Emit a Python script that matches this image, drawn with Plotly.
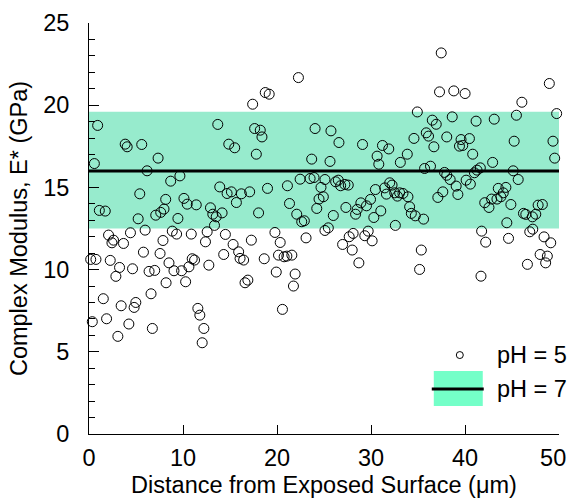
import plotly.graph_objects as go

# pH = 5 measurements: distance from exposed surface (um) and complex modulus (GPa)
x_ph5 = [
    0.92, 3.85, 4.06, 5.61, 7.35, 0.57, 6.18, 5.40, 1.10, 1.73, 5.23, 7.10, 7.63, 7.98, 2.08, 4.41,
    5.97, 2.61, 2.44, 3.67, 7.87, 5.79, 7.56, 0.18, 0.74, 2.26, 3.25, 4.63, 6.39, 6.99, 8.51, 2.86,
    8.20, 6.60, 1.52, 4.98, 3.42, 4.80, 0.35, 1.87, 4.24, 6.74, 3.07,
    13.70, 14.87, 15.50, 8.69, 9.67, 13.91, 14.69, 15.15, 16.21, 15.68, 10.10, 10.45, 11.41, 8.16,
    9.46, 12.92, 13.17, 13.53, 14.16, 13.35, 8.86, 9.32, 10.88, 12.57, 12.39, 14.51, 15.33, 15.92,
    16.07, 16.45, 14.33, 10.98, 11.23, 10.63, 9.85, 9.04, 12.75, 10.28, 16.60, 11.58, 11.79, 12.22,
    12.04,
    22.28, 18.75, 19.17, 17.41, 17.62, 18.22, 18.40, 24.05, 17.80, 23.69, 22.46, 23.52, 23.94, 25.10,
    24.68, 24.47, 24.93, 24.23, 17.09, 18.99, 21.11, 21.33, 18.04, 22.10, 22.63, 22.91, 19.78, 20.34,
    23.09, 25.10, 17.27, 20.16, 20.76, 21.05, 21.58, 18.64, 16.90, 19.92, 21.93, 21.75, 20.58,
    25.74, 26.59, 29.10, 31.22, 31.89, 30.65, 30.83, 33.12, 25.64, 26.24, 26.52, 26.77, 27.22,
    27.58, 30.47, 31.46, 31.99, 32.24, 31.64, 32.52, 32.81, 33.05, 33.40, 29.95, 28.92, 29.52, 27.33,
    28.53, 28.36, 31.04, 30.30, 25.99, 32.59, 25.46, 29.70, 28.10, 27.68, 29.34, 30.12, 26.98, 28.00,
    28.71,
    37.47, 37.29, 38.81, 40.01, 34.93, 36.52, 36.94, 38.64, 41.18, 34.57, 35.88, 36.12, 38.06, 36.69,
    39.58, 40.47, 39.41, 39.76, 40.82, 33.86, 35.70, 36.33, 37.82, 38.06, 38.42, 39.06, 39.24, 37.64,
    37.11, 40.12, 40.57, 41.00, 41.28, 41.63, 33.93, 34.11, 34.29, 34.71, 35.59, 42.10, 35.35, 35.17,
    41.77, 42.20, 41.70,
    48.97, 46.05, 43.11, 45.47, 49.75, 45.23, 49.36, 49.54, 42.94, 45.13, 45.66, 43.54, 44.35, 44.07,
    43.82, 43.40, 42.83, 42.55, 44.88, 46.22, 46.47, 47.17, 47.53, 47.78, 48.23, 44.45, 47.21, 46.89,
    44.63, 48.41, 49.12, 47.99, 48.76, 48.58, 46.64,
]
e_ph5 = [
    18.77, 17.63, 17.47, 17.61, 16.78, 16.45, 16.01, 14.61, 13.60, 13.56, 13.09, 13.31, 13.48, 13.68, 12.10, 12.24,
    12.40, 11.79, 11.63, 11.59, 11.77, 11.06, 10.98, 10.62, 10.62, 10.56, 10.13, 10.05, 9.89, 9.95, 10.41, 9.59,
    9.20, 8.53, 8.23, 8.00, 7.80, 7.70, 6.83, 7.01, 6.69, 6.42, 5.94,
    18.83, 17.63, 17.41, 15.38, 15.70, 15.03, 14.63, 14.73, 14.61, 14.08, 14.33, 13.98, 13.94, 14.27,
    13.11, 13.76, 13.37, 13.21, 13.45, 12.69, 12.34, 12.16, 12.16, 12.30, 11.69, 12.14, 11.53, 11.08,
    10.68, 10.58, 10.92, 10.66, 10.58, 10.17, 9.93, 9.93, 10.27, 9.26, 9.20, 7.64, 7.23, 6.42,
    5.55,
    21.68, 20.77, 20.67, 20.06, 18.58, 18.48, 18.07, 18.58, 17.02, 16.72, 15.50, 15.54, 15.60, 15.48,
    15.00, 14.29, 14.43, 13.72, 14.73, 14.94, 15.10, 14.02, 13.45, 13.37, 12.91, 12.97, 12.26, 11.65,
    11.93, 12.38, 11.79, 10.88, 10.78, 10.82, 10.88, 10.66, 9.36, 9.85, 9.73, 9.00, 7.58,
    18.44, 17.73, 17.61, 17.55, 17.34, 16.90, 16.41, 16.52, 16.58, 15.34, 15.44, 15.10, 15.18,
    15.14, 14.87, 14.97, 15.28, 15.14, 14.59, 14.67, 14.47, 14.67, 14.63, 14.27, 14.06, 13.88, 13.78,
    13.66, 13.37, 13.57, 13.17, 13.29, 12.69, 12.54, 12.34, 12.20, 12.00, 12.06, 11.75, 11.53, 11.19,
    10.41,
    23.18, 20.81, 20.87, 20.71, 19.59, 19.09, 18.84, 19.29, 19.03, 17.98, 18.32, 18.12, 18.07, 17.47,
    17.91, 17.97, 17.51, 17.55, 17.02, 17.02, 16.15, 16.29, 15.91, 15.74, 15.48, 15.08, 14.57, 14.73,
    14.39, 15.44, 15.20, 15.89, 16.05, 16.19, 14.43, 13.82, 13.42, 13.27, 13.07, 14.07, 11.19, 10.01,
    12.34, 11.67, 9.60,
    21.32, 20.18, 19.15, 19.39, 19.49, 17.81, 17.81, 16.78, 16.52, 16.01, 15.48, 14.94, 15.00, 14.67,
    14.43, 14.29, 14.29, 13.78, 13.96, 13.42, 13.36, 13.21, 13.37, 13.92, 13.96, 12.85, 12.46, 12.30,
    11.90, 11.99, 11.63, 10.92, 10.82, 10.41, 10.32,
]

# pH = 7 reference: mean and range band
x_ph7 = [0, 50]
ph7_mean = [16.0, 16.0]
ph7_low = [12.5, 12.5]
ph7_high = [19.6, 19.6]

x_ticks = [0, 10, 20, 30, 40, 50]
x_tick_labels = ["0", "10", "20", "30", "40", "50\u2002"]
y_ticks = [0, 5, 10, 15, 20, 25]

FONT = "Liberation Sans, Arial, sans-serif"
FS = 23.5
BAND_COLOR = "#97EBCD"
LEGEND_BAND = "#74FFC8"

fig = go.Figure()

fig.add_trace(go.Scatter(
    x=x_ph7 + x_ph7[::-1], y=ph7_low + ph7_high[::-1],
    fill="toself", fillcolor=BAND_COLOR, line=dict(width=0),
    mode="lines", hoverinfo="skip", showlegend=False,
))
fig.add_trace(go.Scatter(
    x=x_ph7, y=ph7_mean, mode="lines",
    line=dict(color="black", width=3), showlegend=False,
))
fig.add_trace(go.Scatter(
    x=x_ph5, y=e_ph5, mode="markers",
    marker=dict(symbol="circle-open", size=10, color="black", line=dict(width=1, color="black")),
    showlegend=False, cliponaxis=False,
))

# Manual legend (paper coordinates)
fig.add_shape(type="circle", xref="paper", yref="paper",
              x0=0.7815, x1=0.7964, y0=0.1836, y1=0.2006,
              line=dict(color="black", width=1))
fig.add_shape(type="rect", xref="paper", yref="paper",
              x0=0.7336, x1=0.8378, y0=0.0681, y1=0.1532,
              fillcolor=LEGEND_BAND, line=dict(width=0))
fig.add_shape(type="line", xref="paper", yref="paper",
              x0=0.7293, x1=0.8399, y0=0.1094, y1=0.1094,
              line=dict(color="black", width=3))
fig.add_annotation(text="pH = 5", xref="paper", yref="paper", x=0.8633, y=0.1921,
                   xanchor="left", yanchor="middle", showarrow=False,
                   font=dict(size=FS, color="black", family=FONT))
fig.add_annotation(text="pH = 7", xref="paper", yref="paper", x=0.8633, y=0.1094,
                   xanchor="left", yanchor="middle", showarrow=False,
                   font=dict(size=FS, color="black", family=FONT))

fig.update_layout(
    width=570, height=502,
    margin=dict(l=89, r=11, t=23, b=68),
    paper_bgcolor="white", plot_bgcolor="white",
    font=dict(family=FONT, size=FS, color="black"),
    showlegend=False,
)
fig.update_xaxes(
    range=[0, 50], tickvals=x_ticks, ticktext=x_tick_labels,
    ticks="inside", ticklen=9, tickwidth=1, tickcolor="black",
    showline=True, linecolor="black", linewidth=1, showgrid=False, zeroline=False, automargin=False,
    tickfont=dict(size=FS, family=FONT), ticklabelstandoff=3, ticklabeloverflow="allow",
    title=dict(text="Distance from Exposed Surface (μm)", font=dict(size=FS, family=FONT), standoff=6),
)
fig.update_yaxes(
    range=[0, 25], tickvals=y_ticks, ticks="inside", ticklen=10, tickwidth=1, tickcolor="black",
    showline=True, linecolor="black", linewidth=1, showgrid=False, zeroline=False, automargin=False,
    minor=dict(dtick=1, ticks="inside", ticklen=6, tickwidth=1, tickcolor="black", showgrid=False),
    tickfont=dict(size=FS, family=FONT), ticklabelstandoff=14,
    title=dict(text="Complex Modulus, E* (GPa)", font=dict(size=FS, family=FONT), standoff=8),
)

# remove the default page margin so the 570x502 figure fills the window exactly
fig.write_html("out.html", config={"displayModeBar": False},
               post_script="document.body.style.margin='0';document.body.style.overflow='hidden';")
